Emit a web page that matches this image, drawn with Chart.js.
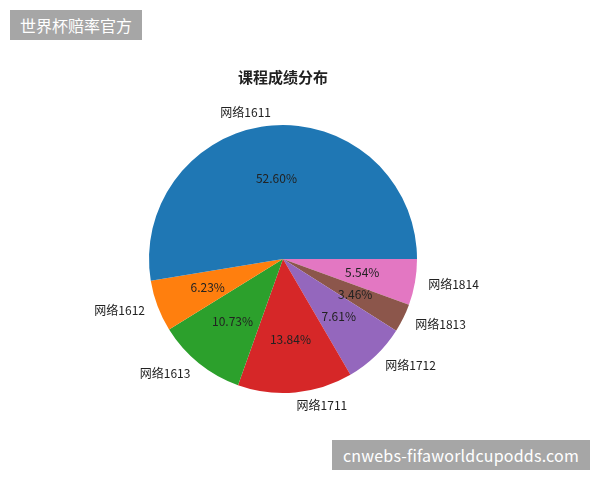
<!DOCTYPE html>
<html>
<head>
<meta charset="utf-8">
<script src="https://cdn.jsdelivr.net/npm/chart.js@4/dist/chart.umd.min.js"></script>
<style>
  html, body { margin: 0; padding: 0; background: #fff; }
  .wrap { position: relative; width: 600px; height: 480px; }
  canvas { position: absolute; left: 0; top: 0; }
  .mark {
    position: absolute; background: #a6a6a6; color: #fff;
    font-family: "Noto Sans CJK SC", "DejaVu Sans", sans-serif;
    font-size: 16px; line-height: 30px; height: 30px; padding: 0 10px;
    white-space: nowrap;
  }
  .mark.tl { left: 10px; top: 10px; }
  .mark.br { right: 10px; top: 440px; padding: 0 11px; letter-spacing: 0.2px; }
</style>
</head>
<body>
<div class="wrap">
  <canvas id="pie" width="600" height="480"></canvas>
  <div class="mark tl">世界杯赔率官方</div>
  <div class="mark br">cnwebs-fifaworldcupodds.com</div>
</div>
<script>
const title = '课程成绩分布';
const classes = ['网络1611', '网络1612', '网络1613', '网络1711', '网络1712', '网络1813', '网络1814'];
const shares = [52.60, 6.23, 10.73, 13.84, 7.61, 3.46, 5.54];
const colors = ['#1f77b4', '#ff7f0e', '#2ca02c', '#d62728', '#9467bd', '#8c564b', '#e377c2'];

// matplotlib goes counterclockwise from 3 o'clock; Chart.js goes clockwise,
// so feed the slices in reverse and start at 3 o'clock
const order = classes.map((_, i) => i).reverse();

const labelFont = '12px "Noto Sans CJK SC", sans-serif';

const pieText = {
  id: 'pieText',
  afterDatasetsDraw(chart) {
    const ctx = chart.ctx;
    const meta = chart.getDatasetMeta(0);
    ctx.save();
    ctx.fillStyle = '#222';
    ctx.font = 'bold 15px "Noto Sans CJK SC", sans-serif';
    ctx.textAlign = 'center';
    ctx.textBaseline = 'middle';
    const cx = meta.data[0].x;
    ctx.fillText(title, cx, 77);

    meta.data.forEach((arc, i) => {
      const p = arc.getProps(['x', 'y', 'startAngle', 'endAngle', 'outerRadius'], true);
      const mid = (p.startAngle + p.endAngle) / 2;
      const c = Math.cos(mid), s = Math.sin(mid);
      const idx = order[i];
      ctx.font = labelFont;
      ctx.fillStyle = '#222';
      ctx.textBaseline = 'middle';
      ctx.textAlign = c >= 0 ? 'left' : 'right';
      ctx.fillText(classes[idx], p.x + c * p.outerRadius * 1.1, p.y + s * p.outerRadius * 1.1);
      ctx.textAlign = 'center';
      ctx.fillText(shares[idx].toFixed(2) + '%', p.x + c * p.outerRadius * 0.6, p.y + s * p.outerRadius * 0.6);
    });
    ctx.restore();
  }
};

new Chart(document.getElementById('pie'), {
  type: 'pie',
  data: {
    labels: order.map(i => classes[i]),
    datasets: [{
      data: order.map(i => shares[i]),
      backgroundColor: order.map(i => colors[i]),
      borderWidth: 0
    }]
  },
  options: {
    responsive: false,
    animation: false,
    rotation: 90,
    layout: { padding: { left: 149, right: 183, top: 125, bottom: 87 } },
    plugins: {
      legend: { display: false },
      tooltip: { enabled: false }
    }
  },
  plugins: [pieText]
});
</script>
</body>
</html>
